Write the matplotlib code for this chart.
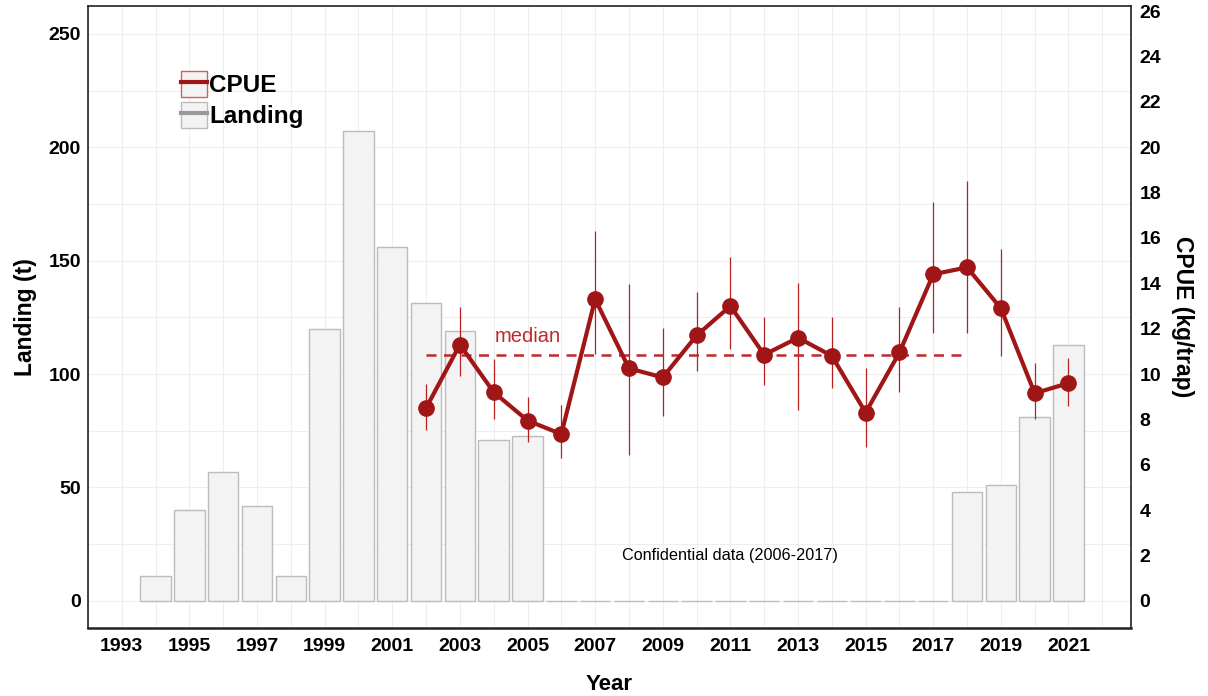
import matplotlib.pyplot as plt
from matplotlib.lines import Line2D
from matplotlib.patches import Patch
from matplotlib.legend_handler import HandlerTuple

plt.rcParams['font.family'] = ['Liberation Sans', 'DejaVu Sans']

# landings (t) per year, 2006-2017 confidential -> 0
years = list(range(1994, 2022))
landing = [11, 40, 57, 42, 11, 120, 207, 156, 131.5, 119, 71, 72.5,
           0, 0, 0, 0, 0, 0, 0, 0, 0, 0, 0, 0,
           48, 51, 81, 113]

# CPUE (kg/trap) with interval
cpue_years = list(range(2002, 2022))
cpue = [8.5, 11.3, 9.2, 7.95, 7.35, 13.3, 10.25, 9.85, 11.7, 13.0,
        10.85, 11.6, 10.8, 8.3, 10.95, 14.4, 14.7, 12.9, 9.15, 9.6]
cpue_hi = [9.55, 12.95, 10.65, 9.0, 8.65, 16.3, 13.95, 12.05, 13.6, 15.15,
           12.5, 14.0, 12.5, 10.25, 12.95, 17.6, 18.5, 15.5, 10.5, 10.7]
cpue_lo = [7.55, 9.9, 8.0, 7.0, 6.3, 10.9, 6.45, 8.15, 10.15, 11.1,
           9.5, 8.4, 9.4, 6.8, 9.2, 11.8, 11.8, 10.8, 8.0, 8.6]
cpue_median = 10.82
median_span = (2002, 2018)

red = '#a01616'

fig = plt.figure(figsize=(12.08, 6.96), dpi=100)
ax = fig.add_axes([0.0728, 0.0977, 0.8635, 0.8937])

ax.bar(years, landing, width=0.9, color='#f3f3f3', edgecolor='#bcbcbc',
       linewidth=1.0, zorder=2)

# CPUE is plotted on the landing scale (x10) and relabelled on the right axis
ax.vlines(cpue_years, [v * 10 for v in cpue_lo], [v * 10 for v in cpue_hi],
          color='#b52020', linewidth=0.9, zorder=3)
ax.plot(cpue_years, [v * 10 for v in cpue], color=red, linewidth=3,
        marker='o', markersize=11, zorder=4)
ax.hlines(cpue_median * 10, median_span[0], median_span[1], color='#c0282a',
          linewidth=1.8, linestyles=(0, (4, 3)), zorder=3)
ax.text(2005.0, 116.4, 'median', color='#c0282a', fontsize=14.5,
        ha='center', va='center')
ax.text(2011.0, 19.8, 'Confidential data (2006-2017)', fontsize=11.7,
        ha='center', va='center', color='black')

ax.set_xlim(1992.18, 2022.85)
ax.set_ylim(-12, 262.3)
ax.set_xticks(range(1993, 2022, 2))
ax.set_xticks(range(1992, 2023), minor=True)
ax.set_yticks(range(0, 251, 50))
ax.set_yticks(range(0, 251, 25), minor=True)
ax.grid(True, which='both', color='#eeeeee', linewidth=0.8, zorder=0)
ax.set_axisbelow(True)
ax.tick_params(which='both', length=0)
ax.tick_params(axis='y', labelsize=14, pad=5)
ax.tick_params(axis='x', labelsize=14, pad=7)
for lab in ax.get_xticklabels() + ax.get_yticklabels():
    lab.set_fontweight('bold')
for s in ax.spines.values():
    s.set_color('#222222')
    s.set_linewidth(1.2)
ax.spines['bottom'].set_linewidth(1.8)

ax.set_xlabel('Year', fontsize=16, fontweight='bold', labelpad=14)
ax.set_ylabel('Landing (t)', fontsize=16.5, fontweight='bold', labelpad=8)

ax2 = ax.twinx()
ax2.set_ylim(-1.2, 26.23)
ax2.set_yticks(range(0, 27, 2))
ax2.tick_params(length=0, labelsize=14, pad=6)
for lab in ax2.get_yticklabels():
    lab.set_fontweight('bold')
for s in ax2.spines.values():
    s.set_visible(False)
ax2.set_ylabel('CPUE (kg/trap)', fontsize=16.5, fontweight='bold',
               rotation=270, labelpad=24)

h_cpue = (Patch(facecolor='#f3f3f3', edgecolor='#d06060'),
          Line2D([], [], color=red, linewidth=3))
h_land = (Patch(facecolor='#f3f3f3', edgecolor='#bcbcbc'),
          Line2D([], [], color='#999999', linewidth=3))
leg = ax.legend([h_cpue, h_land], ['CPUE', 'Landing'],
                handler_map={tuple: HandlerTuple(ndivide=1, pad=0)},
                loc='upper left', bbox_to_anchor=(0.0686, 0.93),
                frameon=False, handlelength=1.05, handleheight=1.25,
                handletextpad=0.1, labelspacing=0.2,
                prop={'size': 17.5, 'weight': 'bold'})

fig.savefig('out.png', dpi=100)
